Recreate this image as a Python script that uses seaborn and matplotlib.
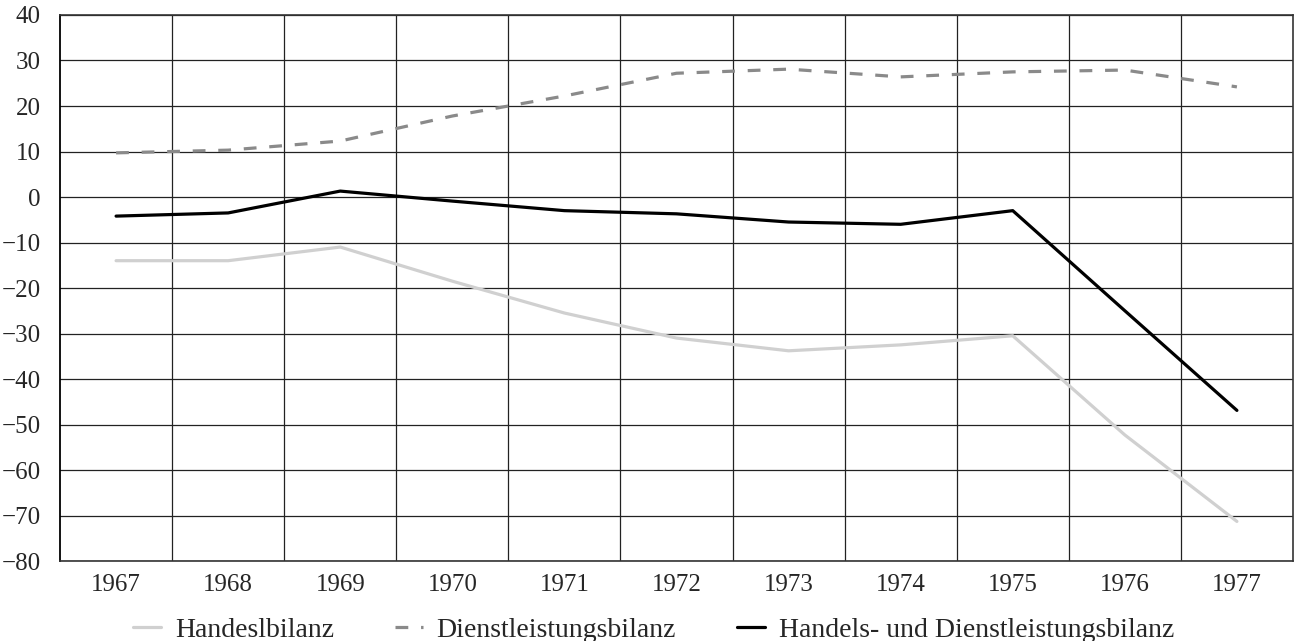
import pandas as pd
import numpy as np
import matplotlib
matplotlib.use("Agg")
import matplotlib.pyplot as plt
import seaborn as sns

years = [1967, 1968, 1969, 1970, 1971, 1972, 1973, 1974, 1975, 1976, 1977]
handel = [-14.0, -14.0, -11.0, -18.5, -25.5, -31.0, -33.8, -32.5, -30.5, -52.3, -71.3]
dienst = [9.7, 10.3, 12.3, 17.8, 22.2, 27.2, 28.1, 26.4, 27.5, 27.9, 24.2]
gesamt = [-4.2, -3.5, 1.3, -0.9, -3.0, -3.7, -5.5, -6.0, -3.0, -25.0, -46.9]

series_names = ["Handeslbilanz", "Dienstleistungsbilanz", "Handels- und Dienstleistungsbilanz"]
series_colors = ["#d0d0d0", "#8a8a8a", "#000000"]

df = pd.concat([
    pd.DataFrame({"Jahr": years, "Wert": handel, "Reihe": series_names[0]}),
    pd.DataFrame({"Jahr": years, "Wert": dienst, "Reihe": series_names[1]}),
    pd.DataFrame({"Jahr": years, "Wert": gesamt, "Reihe": series_names[2]}),
])

sns.set_style("white")
plt.rcParams["font.family"] = ["Liberation Serif", "DejaVu Serif"]

fig, ax = plt.subplots(figsize=(12.94, 6.41), dpi=100)
fig.subplots_adjust(left=0.0464, right=0.9992, top=0.9766, bottom=0.1248)

sns.lineplot(data=df, x="Jahr", y="Wert", hue="Reihe", style="Reihe",
             hue_order=series_names, style_order=series_names,
             palette=dict(zip(series_names, series_colors)),
             dashes={series_names[0]: "", series_names[1]: (4, 4), series_names[2]: ""},
             linewidth=2.3, ax=ax)

ax.set_xlim(years[0] - 0.5, years[-1] + 0.5)
ax.set_ylim(-80, 40)
ax.set_yticks(range(-80, 41, 10))
ax.set_xticks(years)
ax.set_xticks([y + 0.5 for y in years[:-1]], minor=True)
ax.grid(False)
ax.grid(True, axis="y", which="major", color="#222222", linewidth=0.9)
ax.grid(True, axis="x", which="minor", color="#222222", linewidth=0.9)
ax.tick_params(axis="both", which="both", length=0, labelsize=18)
ax.tick_params(axis="x", pad=9)
ax.tick_params(axis="y", pad=14)
ax.set_xlabel("")
ax.set_ylabel("")
ax.set_axisbelow(True)

for side in ["top", "right", "bottom"]:
    ax.spines[side].set_color("#333333")
    ax.spines[side].set_linewidth(1.2)
ax.spines["left"].set_color("#000000")
ax.spines["left"].set_linewidth(1.3)

handles, labels = ax.get_legend_handles_labels()
ax.get_legend().remove()
fig.legend(handles, labels, loc="center", bbox_to_anchor=(0.505, 0.017),
           ncol=3, frameon=False, fontsize=20, handlelength=1.0,
           handletextpad=0.5, columnspacing=2.2)

plt.savefig("out.png", dpi=100)
plt.close()
